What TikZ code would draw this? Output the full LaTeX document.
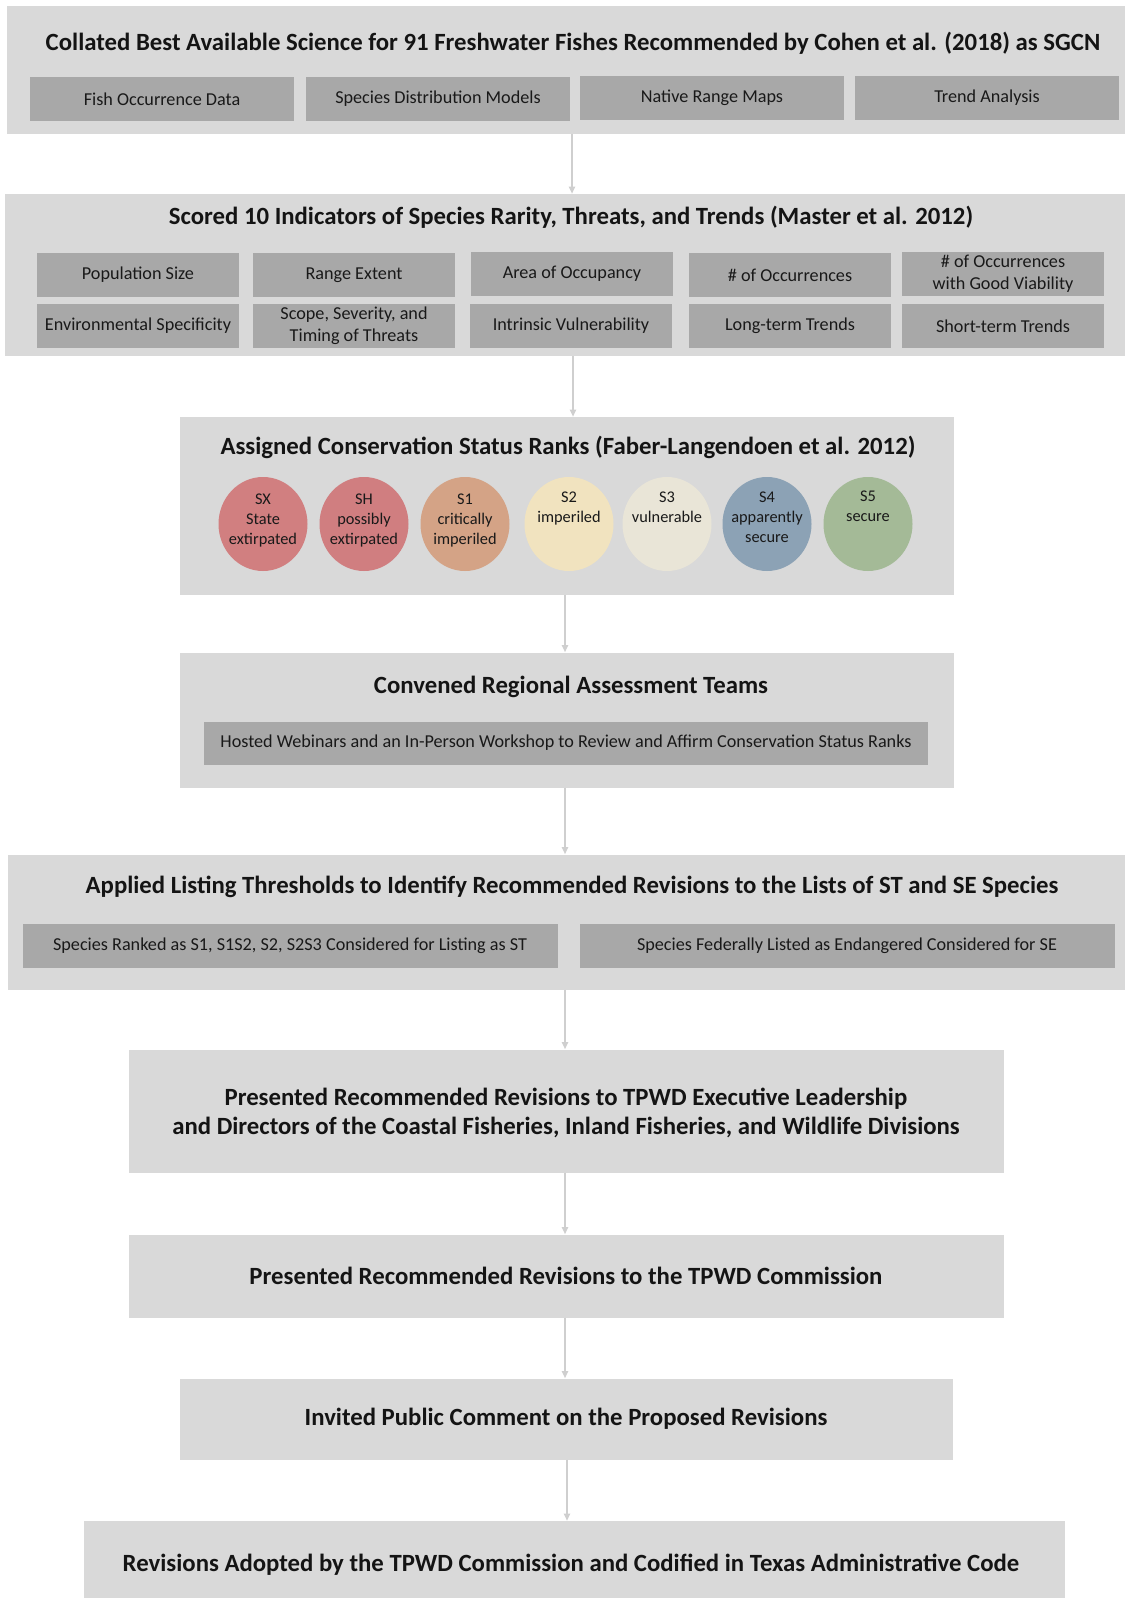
\documentclass[tikz,border=0pt]{standalone}
\usepackage{fontspec}
\setmainfont{Carlito}
\usetikzlibrary{arrows.meta, shapes.geometric}

\definecolor{boxgray}{HTML}{D9D9D9}
\definecolor{subgray}{HTML}{A8A8A8}
\definecolor{arrgray}{HTML}{CFCFCF}
\definecolor{rankSX}{HTML}{D17F80}
\definecolor{rankSH}{HTML}{D07E80}
\definecolor{rankSone}{HTML}{D4A386}
\definecolor{rankStwo}{HTML}{F1E3BF}
\definecolor{rankSthree}{HTML}{E9E5D7}
\definecolor{rankSfour}{HTML}{8CA2B5}
\definecolor{rankSfive}{HTML}{A4BA97}

\begin{document}
\begin{tikzpicture}[x=0.02cm, y=-0.02cm,
  bw/.style={minimum width=#1*0.02cm},
  bh/.style={minimum height=#1*0.02cm},
  outer/.style={fill=boxgray, inner sep=0pt},
  sub/.style={fill=subgray, inner sep=0pt, bh=44, align=center,
    text=black!90, font=\fontsize{10.35}{12.4}\selectfont},
  ttl/.style={text=black!92, align=center, font=\fontsize{14.1}{16.6}\selectfont\bfseries},
  rank/.style={ellipse, fill=#1, bw=89, bh=94, inner sep=0pt},
  ranktxt/.style={anchor=north, align=center, text=black!90, font=\fontsize{9.3}{11.3}\selectfont},
  arr/.style={draw=arrgray, line width=0.8pt, -{Triangle[length=4pt, width=3.6pt]}}]
\useasboundingbox (0,0) rectangle (1125,1598);

% data sources
\node[outer, bw=1118, bh=128] (sci) at (566, 70) {};
\node[ttl] (scit) at (573, 43) {Collated Best Available Science for 91 Freshwater Fishes Recommended by Cohen et al. (2018) as SGCN};
\node[sub, bw=264] (occ) at (162, 99) {Fish Occurrence Data};
\node[sub, bw=264] (sdm) at (438, 99) {Species Distribution Models};
\node[sub, bw=264] (nat) at (712, 98) {Native Range Maps};
\node[sub, bw=264] (trd) at (987, 98) {Trend Analysis};

% rank factors
\node[outer, bw=1120, bh=162] (ind) at (565, 275) {};
\node[ttl] (indt) at (571, 217) {Scored 10 Indicators of Species Rarity, Threats, and Trends (Master et al. 2012)};
\node[sub, bw=202] (f1) at (138, 275) {Population Size};
\node[sub, bw=202] (f2) at (354, 275) {Range Extent};
\node[sub, bw=202] (f3) at (572, 274) {Area of Occupancy};
\node[sub, bw=202] (f4) at (790, 275) {\# of Occurrences};
\node[sub, bw=202] (f5) at (1003, 274) {\# of Occurrences\\with Good Viability};
\node[sub, bw=202] (f6) at (138, 326) {Environmental Specificity};
\node[sub, bw=202] (f7) at (354, 326) {Scope, Severity, and\\Timing of Threats};
\node[sub, bw=202] (f8) at (571, 326) {Intrinsic Vulnerability};
\node[sub, bw=202] (f9) at (790, 326) {Long-term Trends};
\node[sub, bw=202] (f10) at (1003, 326) {Short-term Trends};

% status ranks
\node[outer, bw=774, bh=178] (rank) at (567, 506) {};
\node[ttl] (rankt) at (568, 447) {Assigned Conservation Status Ranks (Faber-Langendoen et al. 2012)};
\def\ry{524}
\node[rank=rankSX] (sx) at (263, \ry) {};
\node[rank=rankSH] (sh) at (364, \ry) {};
\node[rank=rankSone] (s1) at (465, \ry) {};
\node[rank=rankStwo] (s2) at (569, \ry) {};
\node[rank=rankSthree] (s3) at (667, \ry) {};
\node[rank=rankSfour] (s4) at (767, \ry) {};
\node[rank=rankSfive] (s5) at (868, \ry) {};
\node[ranktxt] (sxt) at (263, 488) {SX\\State\\extirpated};
\node[ranktxt] (sht) at (364, 488) {SH\\possibly\\extirpated};
\node[ranktxt] (s1t) at (465, 488) {S1\\critically\\imperiled};
\node[ranktxt] (s2t) at (569, 486) {S2\\imperiled};
\node[ranktxt] (s3t) at (667, 486) {S3\\vulnerable};
\node[ranktxt] (s4t) at (767, 486) {S4\\apparently\\secure};
\node[ranktxt] (s5t) at (868, 485) {S5\\secure};

% review teams
\node[outer, bw=774, bh=135] (team) at (567, 720) {};
\node[ttl] (teamt) at (571, 687) {Convened Regional Assessment Teams};
\node[sub, bw=724, bh=43] (web) at (566, 743) {Hosted Webinars and an In-Person Workshop to Review and Affirm Conservation Status Ranks};

% listing thresholds
\node[outer, bw=1117, bh=135] (thr) at (566, 922) {};
\node[ttl] (thrt) at (572, 887) {Applied Listing Thresholds to Identify Recommended Revisions to the Lists of ST and SE Species};
\node[sub, bw=535] (st) at (290, 946) {Species Ranked as S1, S1S2, S2, S2S3 Considered for Listing as ST};
\node[sub, bw=535] (se) at (847, 946) {Species Federally Listed as Endangered Considered for SE};

% review and adoption
\node[outer, bw=875, bh=123] (exec) at (566, 1111) {};
\node[ttl] (exect) at (566, 1113) {Presented Recommended Revisions to TPWD Executive Leadership\\and Directors of the Coastal Fisheries, Inland Fisheries, and Wildlife Divisions};
\node[outer, ttl, bw=875, bh=83] (comm) at (566, 1276) {Presented Recommended Revisions to the TPWD Commission};
\node[outer, ttl, bw=773, bh=81] (pub) at (566, 1419) {Invited Public Comment on the Proposed Revisions};
\node[outer, bw=981, bh=88] (adopt) at (574, 1565) {};
\node[ttl] (adoptt) at (571, 1565) {Revisions Adopted by the TPWD Commission and Codified in Texas Administrative Code};

\draw[arr] (sci.south -| 572,0) -- (ind.north -| 572,0);
\draw[arr] (ind.south -| 573,0) -- (rank.north -| 573,0);
\draw[arr] (rank.south -| 565,0) -- (team.north -| 565,0);
\draw[arr] (team.south -| 565,0) -- (thr.north -| 565,0);
\draw[arr] (thr.south -| 565,0) -- (exec.north -| 565,0);
\draw[arr] (exec.south -| 565,0) -- (comm.north -| 565,0);
\draw[arr] (comm.south -| 565,0) -- (pub.north -| 565,0);
\draw[arr] (pub.south -| 567,0) -- (adopt.north -| 567,0);
\end{tikzpicture}
\end{document}
